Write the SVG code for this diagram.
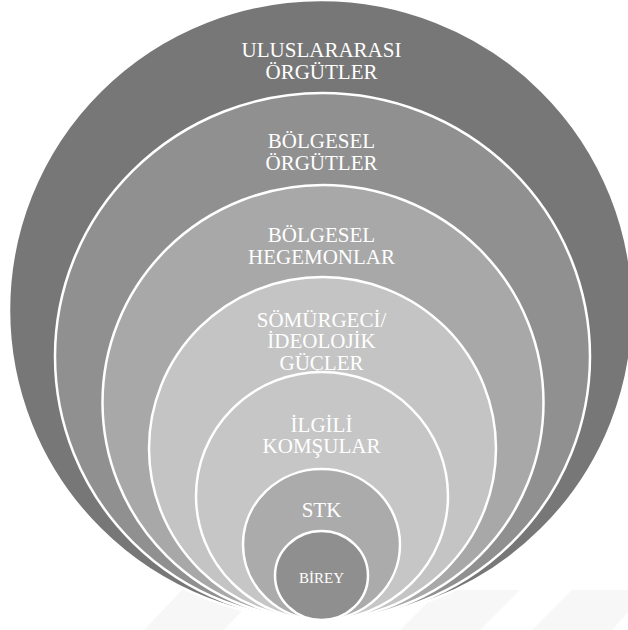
<svg xmlns="http://www.w3.org/2000/svg" width="628" height="630" viewBox="0 0 628 630">
<style>
.ring{stroke:#ffffff;stroke-width:2.5}
.t{font-family:"Liberation Serif","Times New Roman",serif;font-size:21px;fill:#ffffff;text-anchor:middle}
.s{font-size:15px}
.wm{fill:#f7f7f7}
</style>
<rect width="628" height="630" fill="#ffffff"/>
<g id="watermark">
<polygon class="wm" points="144,630 224,630 262,590 182,590"/>
<polygon class="wm" points="400,630 480,630 520,590 440,590"/>
<polygon class="wm" points="532,630 612,630 628,612 628,590 572,590"/>
</g>
<g id="n1">
<ellipse class="ring" cx="321" cy="310" rx="312" ry="310" fill="#777777"/>
<text class="t" x="321.5" y="57">ULUSLARARASI</text>
<text class="t" x="321.5" y="79">ÖRGÜTLER</text>
</g>
<g id="n2">
<ellipse class="ring" cx="322.5" cy="356.5" rx="267.5" ry="263.5" fill="#909090"/>
<text class="t" x="321.5" y="148">BÖLGESEL</text>
<text class="t" x="321.5" y="170">ÖRGÜTLER</text>
</g>
<g id="n3">
<ellipse class="ring" cx="323" cy="402.5" rx="220.5" ry="217.5" fill="#a8a8a8"/>
<text class="t" x="321.5" y="242">BÖLGESEL</text>
<text class="t" x="321.5" y="264">HEGEMONLAR</text>
</g>
<g id="n4">
<ellipse class="ring" cx="322.5" cy="448.5" rx="173.5" ry="171.5" fill="#c4c4c4"/>
<text class="t" x="321.5" y="326.5">SÖMÜRGECİ/</text>
<text class="t" x="321.5" y="348">İDEOLOJİK</text>
<text class="t" x="321.5" y="370">GÜÇLER</text>
</g>
<g id="n5">
<ellipse class="ring" cx="322" cy="496" rx="126" ry="124" fill="#c6c6c6"/>
<text class="t" x="321.5" y="431.5">İLGİLİ</text>
<text class="t" x="321.5" y="453">KOMŞULAR</text>
</g>
<g id="n6">
<ellipse class="ring" cx="321.5" cy="544.5" rx="78.5" ry="75.5" fill="#ababab"/>
<text class="t" x="321.5" y="516.5">STK</text>
</g>
<g id="n7">
<ellipse class="ring" cx="321.5" cy="575.5" rx="46.5" ry="44.5" fill="#8f8f8f"/>
<text class="t s" x="321.5" y="583">BİREY</text>
</g>
<g id="connectors"/>
</svg>
